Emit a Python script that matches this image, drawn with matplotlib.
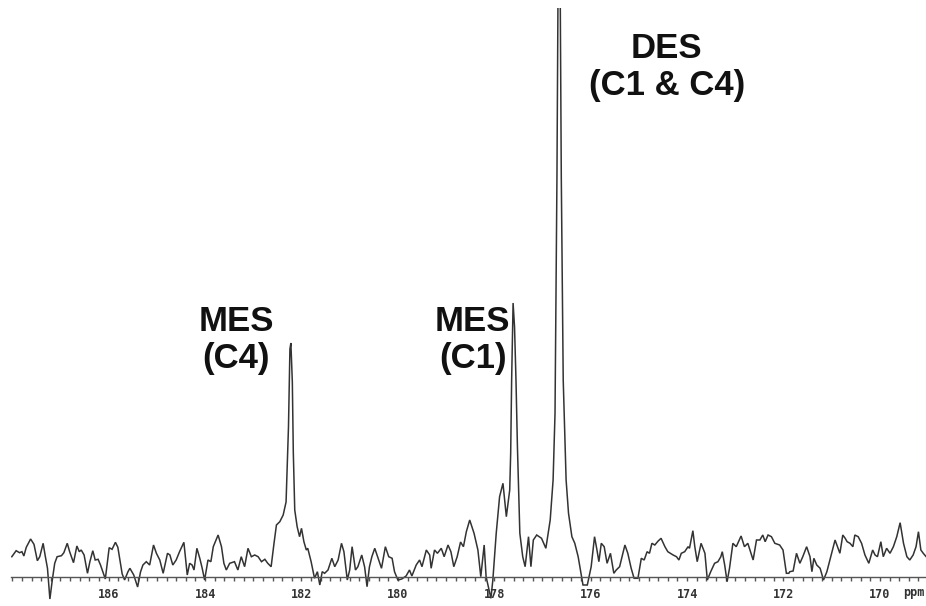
import numpy as np
import matplotlib
matplotlib.use("Agg")
import matplotlib.pyplot as plt
from matplotlib.ticker import MultipleLocator

# 13C NMR spectrum trace (chemical shift in ppm, intensity in arbitrary units)
ppm = [
    188.01, 187.92, 187.85, 187.80, 187.76, 187.71, 187.62, 187.55, 187.48, 187.43,
    187.36, 187.32, 187.27, 187.22, 187.17, 187.12, 187.07, 186.98, 186.93, 186.86,
    186.81, 186.73, 186.66, 186.61, 186.57, 186.51, 186.44, 186.39, 186.33, 186.28,
    186.22, 186.17, 186.07, 185.99, 185.93, 185.86, 185.81, 185.72, 185.67, 185.60,
    185.56, 185.48, 185.40,
    185.34, 185.29, 185.22, 185.15, 185.07, 185.01, 184.94, 184.87, 184.78, 184.73,
    184.67, 184.60, 184.53, 184.44, 184.37, 184.32, 184.27, 184.23, 184.17, 184.11,
    184.06, 184.01, 183.94, 183.88, 183.83, 183.73, 183.66, 183.61, 183.56, 183.49,
    183.39, 183.32, 183.25, 183.18, 183.11, 183.04, 182.97, 182.90, 182.83, 182.76,
    182.70,
    182.63, 182.57, 182.52, 182.45, 182.38, 182.32, 182.27, 182.24, 182.22, 182.19,
    182.17, 182.14, 182.09, 182.04, 182.00, 181.95, 181.90, 181.87, 181.80, 181.73,
    181.67, 181.62, 181.57, 181.52, 181.45, 181.37, 181.31, 181.24, 181.17, 181.12,
    181.05, 181.00, 180.95, 180.88, 180.83, 180.75, 180.69, 180.64, 180.59, 180.54,
    180.48, 180.41, 180.34, 180.26, 180.19, 180.12, 180.07, 180.00,
    179.92, 179.83, 179.76, 179.71, 179.62, 179.55, 179.50, 179.41, 179.34, 179.31,
    179.24, 179.18, 179.10, 179.04, 178.96, 178.90, 178.84, 178.77, 178.70, 178.64,
    178.58, 178.51, 178.42, 178.34, 178.28, 178.21, 178.17, 178.07, 178.03, 177.96,
    177.89, 177.82, 177.75, 177.68, 177.66, 177.64, 177.61, 177.58, 177.55, 177.52,
    177.47, 177.41, 177.36, 177.29, 177.24, 177.19, 177.12, 177.02, 176.93, 176.84,
    176.78, 176.74, 176.70, 176.67, 176.64, 176.61, 176.57, 176.51, 176.46, 176.39,
    176.33, 176.26, 176.19,
    176.16, 176.07, 175.99, 175.92, 175.87, 175.83, 175.78, 175.72, 175.66, 175.59,
    175.52, 175.47, 175.40, 175.29, 175.23, 175.16, 175.10, 175.02, 174.95, 174.89,
    174.83, 174.78, 174.73, 174.67, 174.60,
    174.54, 174.46, 174.40, 174.29, 174.22, 174.17, 174.12, 174.05, 173.98, 173.95,
    173.88, 173.84, 173.79, 173.71, 173.63, 173.58, 173.51, 173.43, 173.36, 173.30,
    173.27, 173.22, 173.17, 173.12, 173.05, 172.98, 172.88, 172.81, 172.74, 172.63,
    172.56, 172.49, 172.43, 172.38, 172.32, 172.25, 172.18, 172.08, 172.01, 171.94,
    171.89,
    171.87, 171.80, 171.73, 171.66, 171.60, 171.52, 171.45, 171.41, 171.37, 171.31,
    171.24, 171.17, 171.10, 171.00, 170.93, 170.88, 170.83, 170.77, 170.72, 170.68,
    170.62, 170.56, 170.52, 170.45, 170.38, 170.31, 170.23, 170.15, 170.10, 170.05,
    169.98, 169.93, 169.86, 169.79, 169.72, 169.65, 169.58, 169.51, 169.44, 169.38,
    169.31, 169.25, 169.20, 169.15, 169.10, 169.04,
]
intensity = [
    20.3, 26.3, 24.3, 25.3, 21.0, 29.7, 38.0, 32.7, 16.3, 20.3,
    33.7, 22.0, 8.7, -22.0, -3.0, 13.7, 20.3, 21.3, 24.3, 33.7,
    25.3, 14.3, 31.0, 25.3, 27.0, 22.0, 3.7, 15.3, 26.3, 17.0,
    17.7, 12.0, -2.0, 29.3, 27.7, 34.7, 29.7, 3.0, -3.0, 5.3,
    8.7, 2.0, -10.0,
    5.0, 12.0, 15.3, 12.0, 32.0, 23.7, 17.0, 3.7, 23.7, 22.0,
    12.0, 17.0, 25.3, 34.7, 2.0, 13.7, 12.0, 7.0, 28.7, 18.7,
    8.7, -3.0, 17.0, 15.3, 30.3, 42.0, 30.3, 13.7, 7.0, 13.7,
    15.3, 7.0, 20.3, 10.3, 28.7, 20.3, 22.0, 20.3, 15.3, 17.7,
    13.7,
    10.3, 33.7, 52.0, 55.3, 62.0, 75.0, 150.0, 228.0, 234.0, 195.0,
    125.0, 67.0, 50.3, 40.3, 48.7, 35.3, 27.0, 28.7, 15.3, -1.3,
    5.3, -8.0, 5.3, 3.7, 7.0, 18.7, 10.3, 17.0, 33.7, 25.3,
    -3.0, 7.0, 30.3, 7.0, 10.3, 22.0, 10.0, -9.7, 10.3, 20.3,
    28.7, 18.7, 8.7, 30.3, 20.3, 18.7, 5.3, -3.0,
    -2.0, 1.0, 7.0, 1.0, 12.0, 17.0, 10.3, 27.0, 22.0, 8.7,
    27.0, 23.7, 28.7, 20.3, 32.0, 25.3, 10.3, 20.3, 35.0, 30.3,
    45.3, 57.0, 43.7, 27.0, 0.3, 32.0, 0.3, -21.3, -3.0, 43.7,
    80.3, 93.7, 60.3, 87.0, 123.7, 197.0, 274.0, 250.0, 197.0, 130.3,
    43.7, 20.3, 10.3, 40.3, 10.3, 37.0, 42.0, 38.7, 28.7, 57.0,
    97.0, 163.7, 400.0, 650.0, 650.0, 400.0, 197.0, 97.0, 63.7, 40.3,
    33.7, 20.3, 0.3,
    -8.0, -8.0, 10.3, 40.3, 27.0, 15.3, 33.7, 30.3, 13.7, 23.7,
    3.7, 7.0, 10.3, 32.0, 23.7, 8.7, -1.3, -1.3, 18.7, 17.0,
    25.3, 23.7, 33.7, 32.0, 36.0,
    38.7, 30.3, 25.3, 22.0, 20.3, 17.0, 23.7, 25.3, 30.3, 28.7,
    46.3, 30.3, 15.3, 33.7, 23.7, -3.0, 5.3, 13.7, 15.3, 20.3,
    25.3, 12.0, -4.7, 8.7, 33.7, 30.3, 41.0, 30.3, 33.7, 17.0,
    37.0, 37.0, 42.0, 35.3, 42.0, 40.3, 33.7, 32.0, 27.0, 3.7,
    3.7,
    5.3, 6.0, 23.7, 13.7, 20.3, 30.3, 20.3, 5.3, 18.7, 12.0,
    8.7, -3.0, 5.3, 23.7, 37.0, 30.3, 23.7, 42.0, 38.7, 35.3,
    33.7, 30.3, 42.0, 40.3, 33.7, 22.0, 13.7, 27.0, 22.0, 20.3,
    35.3, 20.3, 28.7, 23.7, 30.3, 40.3, 54.3, 33.7, 20.3, 17.0,
    22.0, 30.3, 45.3, 27.0, 23.7, 20.3,
]
major_ticks = [186, 184, 182, 180, 178, 176, 174, 172, 170]
peak_labels = ["MES\n(C4)", "MES\n(C1)", "DES\n(C1 & C4)"]
peak_label_ppm = [183.36, 178.45, 174.42]
peak_label_int = [237, 237, 510]

W, H = 926, 606
fig = plt.figure(figsize=(W / 100, H / 100), dpi=100)
ax = fig.add_axes([11 / W, 0.0, (W - 11) / W, (H - 8) / H])
ax.plot(ppm, intensity, color="#333333", lw=1.1, solid_joinstyle="miter")
ax.set_xlim(188.255 - 11 / 48.2, 188.255 - 926 / 48.2)
ax.set_ylim(-29, 569)

for s in ["top", "right", "left"]:
    ax.spines[s].set_visible(False)
ax.spines["bottom"].set_position(("data", 0))
ax.spines["bottom"].set_color("#555555")
ax.spines["bottom"].set_linewidth(1.0)
ax.set_yticks([])
ax.set_xticks(major_ticks)
ax.set_xticklabels([str(t) for t in major_ticks])
ax.xaxis.set_minor_locator(MultipleLocator(0.2))
ax.tick_params(axis="x", which="both", direction="out", length=3, width=1.0,
               color="#555555", pad=5)
for lab in ax.get_xticklabels():
    lab.set_fontfamily("DejaVu Sans Mono")
    lab.set_fontsize(8.5)
    lab.set_fontweight("bold")
    lab.set_color("#333333")

ax.text(169.29, -9, "ppm", ha="center", va="top",
        fontfamily="DejaVu Sans Mono", fontsize=8.5, fontweight="bold",
        color="#333333")

for lab, xp, yi in zip(peak_labels, peak_label_ppm, peak_label_int):
    ax.text(xp, yi, lab, ha="center", va="center", fontfamily="Liberation Sans",
            fontweight="bold", fontsize=25, color="#111111", linespacing=1.15)

fig.savefig("out.png", dpi=100)
